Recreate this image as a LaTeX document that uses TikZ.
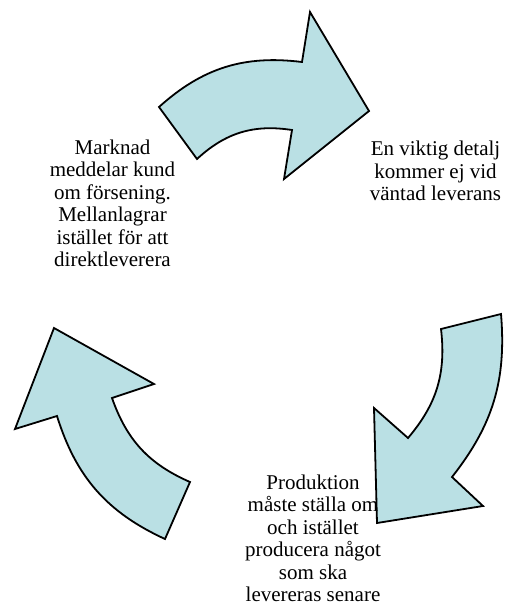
\documentclass[tikz,border=0pt]{standalone}
\usepackage{fontspec}
\setmainfont{Liberation Serif}
\definecolor{arrowfill}{RGB}{186,224,228}
\begin{document}
\begin{tikzpicture}[x=1pt,y=-1pt,
  cyclearrow/.style={draw=black, line width=1.8pt, fill=arrowfill, line join=miter},
  cycletext/.style={font=\fontsize{21}{22.5}\selectfont, align=center, inner sep=0pt, anchor=north}]
\useasboundingbox (0,0) rectangle (505,615);

% upper curved arrow, pointing right
\draw[cyclearrow] (159,107) to[bend left=24.5] (302,62) -- (310,12) -- (369,111)
  -- (284,179) -- (292,130) to[bend right=25.7] (197,159) -- cycle;

% right curved arrow, pointing down-left
\draw[cyclearrow] (408,438) to[bend right=23.5] (441,329) -- (501,314)
  to[bend left=21.5] (452,477) -- (483,506) -- (377,523) -- (374,408) -- cycle;

% left curved arrow, pointing up
\draw[cyclearrow] (190,482) to[bend left=23.5] (112,398) -- (154,384) -- (54,328)
  -- (15,429) -- (57,416) to[bend right=24] (165,539) -- cycle;

\node[cycletext] (market) at (112.5,139.5)
  {Marknad\\meddelar kund\\om försening.\\Mellanlagrar\\istället för att\\direktleverera};
\node[cycletext] (detail) at (435.5,141)
  {En viktig detalj\\kommer ej vid\\väntad leverans};
\node[cycletext] (production) at (313,474.5)
  {Produktion\\måste ställa om\\och istället\\producera något\\som ska\\levereras senare};
\end{tikzpicture}
\end{document}
